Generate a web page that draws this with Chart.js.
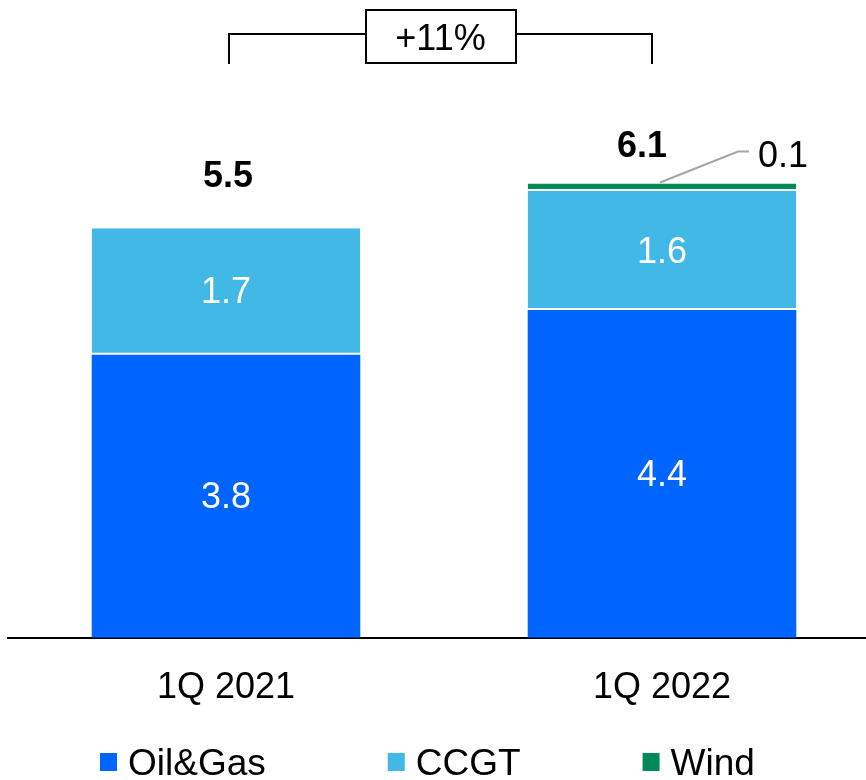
<!DOCTYPE html>
<html>
<head>
<meta charset="utf-8">
<script src="https://cdn.jsdelivr.net/npm/chart.js@4.4.1/dist/chart.umd.min.js"></script>
<style>
  html, body { margin: 0; padding: 0; background: #ffffff; overflow: hidden; }
  #wrap { position: relative; width: 880px; height: 780px; }
</style>
</head>
<body>
<div id="wrap"><canvas id="chart" width="880" height="780"></canvas></div>
<script>
// Production by source, quarterly
const categories = ['1Q 2021', '1Q 2022'];
const oilGas = [3.8, 4.4];
const ccgt = [1.7, 1.6];
const wind = [null, 0.1];
const totals = [5.5, 6.1];
const growthLabel = '+11%';
const seriesNames = ['Oil&Gas', 'CCGT', 'Wind'];

const seriesColors = ['#0064ff', '#41b8e6', '#008a5a'];
const FONT = '"Liberation Sans", Arial, Helvetica, sans-serif';

// where the bold totals sit relative to the top of each stack
const totalLabelNudge = [{ dx: 2, dy: -41 }, { dx: -20, dy: -27 }];

const annotate = {
  id: 'annotate',
  afterDatasetsDraw(chart) {
    const { ctx } = chart;
    const xs = chart.scales.x;
    const ys = chart.scales.y;
    ctx.save();
    ctx.textBaseline = 'alphabetic';

    // values inside the two main segments
    [0, 1].forEach(di => {
      const meta = chart.getDatasetMeta(di);
      meta.data.forEach((bar, i) => {
        const v = chart.data.datasets[di].data[i];
        if (v == null) return;
        ctx.font = '36px ' + FONT;
        ctx.fillStyle = '#ffffff';
        ctx.textAlign = 'center';
        ctx.fillText(v.toFixed(1), bar.x, (bar.y + bar.base) / 2 + 12);
      });
    });

    // stack totals
    totals.forEach((t, i) => {
      const cx = xs.getPixelForValue(i);
      const top = ys.getPixelForValue(t);
      ctx.font = 'bold 36px ' + FONT;
      ctx.fillStyle = '#000000';
      ctx.textAlign = 'center';
      ctx.fillText(t.toFixed(1), cx + totalLabelNudge[i].dx, top + totalLabelNudge[i].dy);
    });

    // callout for the thin wind segment
    const windMeta = chart.getDatasetMeta(2);
    windMeta.data.forEach((bar, i) => {
      const v = chart.data.datasets[2].data[i];
      if (v == null) return;
      ctx.strokeStyle = '#a6a6a6';
      ctx.lineWidth = 2;
      ctx.beginPath();
      ctx.moveTo(bar.x - 2, bar.y - 1);
      ctx.lineTo(bar.x + 76, bar.y - 32);
      ctx.lineTo(bar.x + 87, bar.y - 32);
      ctx.stroke();
      ctx.font = '36px ' + FONT;
      ctx.fillStyle = '#000000';
      ctx.textAlign = 'left';
      ctx.fillText(v.toFixed(1), bar.x + 96, bar.y - 17);
    });

    // growth bracket between the two stacks
    const x1 = Math.round(xs.getPixelForValue(0)) + 3;
    const x2 = Math.round(xs.getPixelForValue(1)) - 10;
    const mid = (x1 + x2) / 2;
    const boxW = 150, boxTop = 10, boxH = 53;
    const bl = Math.round(mid - boxW / 2), br = bl + boxW;
    ctx.strokeStyle = '#000000';
    ctx.lineWidth = 2;
    ctx.beginPath();
    ctx.moveTo(x1, 64); ctx.lineTo(x1, 34); ctx.lineTo(bl, 34);
    ctx.moveTo(br, 34); ctx.lineTo(x2, 34); ctx.lineTo(x2, 64);
    ctx.stroke();
    ctx.strokeRect(bl, boxTop, boxW, boxH);
    ctx.font = '36px ' + FONT;
    ctx.fillStyle = '#000000';
    ctx.textAlign = 'center';
    ctx.fillText(growthLabel, mid, 50);

    ctx.restore();
  },
  afterDraw(chart) {
    // legend row along the bottom
    const { ctx } = chart;
    ctx.save();
    ctx.font = '37px ' + FONT;
    ctx.textAlign = 'left';
    ctx.textBaseline = 'alphabetic';
    let x = 100;
    chart.data.datasets.forEach(ds => {
      ctx.fillStyle = ds.backgroundColor;
      ctx.fillRect(x, 753, 17, 18);
      ctx.fillStyle = '#000000';
      ctx.fillText(ds.label, x + 28, 775);
      x += 28 + ctx.measureText(ds.label).width + 122;
    });
    ctx.restore();
  }
};

const segBorder = { top: 0, left: 0, right: 0, bottom: 2 };

new Chart(document.getElementById('chart'), {
  type: 'bar',
  data: {
    labels: categories,
    datasets: [
      { label: seriesNames[0], data: oilGas, backgroundColor: seriesColors[0], borderWidth: 0 },
      { label: seriesNames[1], data: ccgt, backgroundColor: seriesColors[1],
        borderColor: '#ffffff', borderWidth: segBorder, borderSkipped: false },
      { label: seriesNames[2], data: wind, backgroundColor: seriesColors[2],
        borderColor: '#ffffff', borderWidth: segBorder, borderSkipped: false }
    ]
  },
  options: {
    responsive: false,
    animation: false,
    devicePixelRatio: 1,
    datasets: { bar: { categoryPercentage: 1, barPercentage: 0.616 } },
    layout: { padding: { left: 8, right: 0, top: 42, bottom: 41 } },
    scales: {
      x: {
        stacked: true,
        offset: true,
        grid: { display: false, drawTicks: false },
        border: { display: true, color: '#000000', width: 2 },
        ticks: {
          color: '#000000',
          font: { size: 36, family: FONT },
          padding: 29,
          maxRotation: 0,
          autoSkip: false
        }
      },
      y: { stacked: true, display: false, min: 0, max: 8 }
    },
    plugins: {
      legend: { display: false },
      tooltip: { enabled: false }
    }
  },
  plugins: [annotate]
});
</script>
</body>
</html>
